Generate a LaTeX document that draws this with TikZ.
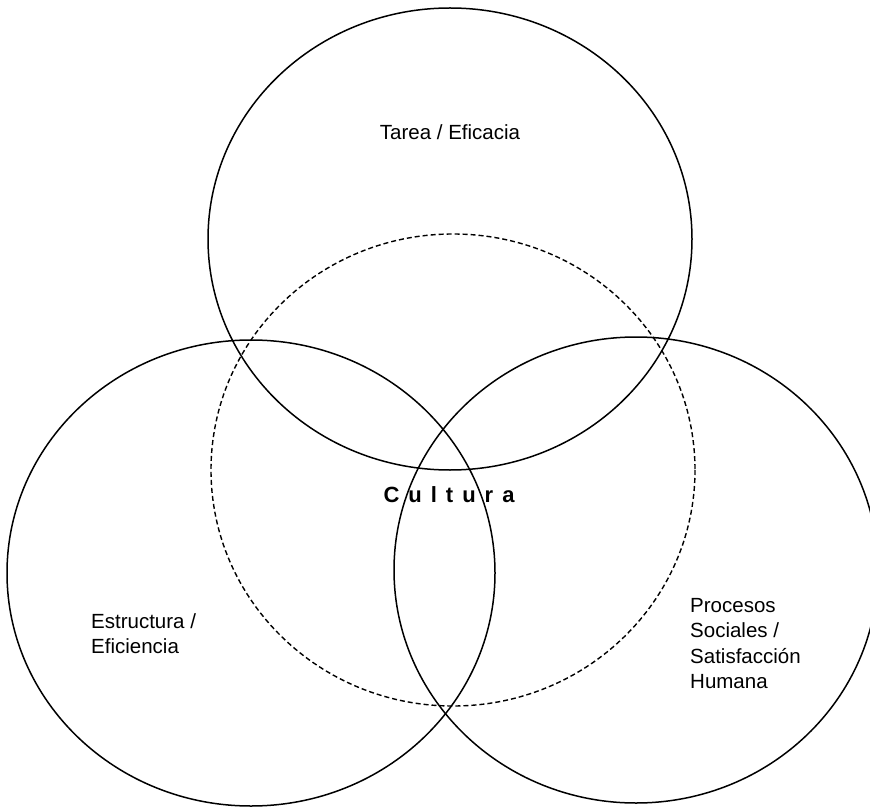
\documentclass[tikz,border=0pt]{standalone}
\usepackage{fontspec}
\setmainfont{Liberation Sans}
\begin{document}
\begin{tikzpicture}[x=1pt,y=-1pt,
  ring/.style={draw=black, line width=1.5pt},
  culturering/.style={draw=black, line width=1.4pt, dash pattern=on 5pt off 3pt},
  lbl/.style={font=\fontsize{20.5}{25.5}\selectfont, inner sep=0pt, align=left},
  title/.style={font=\fontsize{22}{26}\selectfont\bfseries, inner sep=0pt}]
  \useasboundingbox (0,0) rectangle (870,810);
  \clip (0,0) rectangle (870,810);
  \fill[white] (0,0) rectangle (870,810);

  % the three solid rings
  \draw[ring] (450,239) ellipse [x radius=242, y radius=231];
  \draw[ring] (251,573) ellipse [x radius=244, y radius=233];
  \draw[ring] (636,570) ellipse [x radius=242, y radius=233];
  % the dashed culture ring
  \draw[culturering] (453,470) ellipse [x radius=242, y radius=236];

  % labels
  \node[lbl, anchor=center] (tarea) at (450,132) {Tarea / Eficacia};
  \node[title] (cultura) at (449,495) {C\hspace{9pt}u\hspace{9pt}l\hspace{9pt}t\hspace{9pt}u\hspace{9pt}r\hspace{9pt}a};
  \node[lbl, anchor=north west] (estructura) at (91,613) {Estructura /\\Eficiencia};
  \node[lbl, anchor=north west] (procesos) at (690,598) {Procesos\\Sociales /\\Satisfacción\\Humana};
\end{tikzpicture}
\end{document}
